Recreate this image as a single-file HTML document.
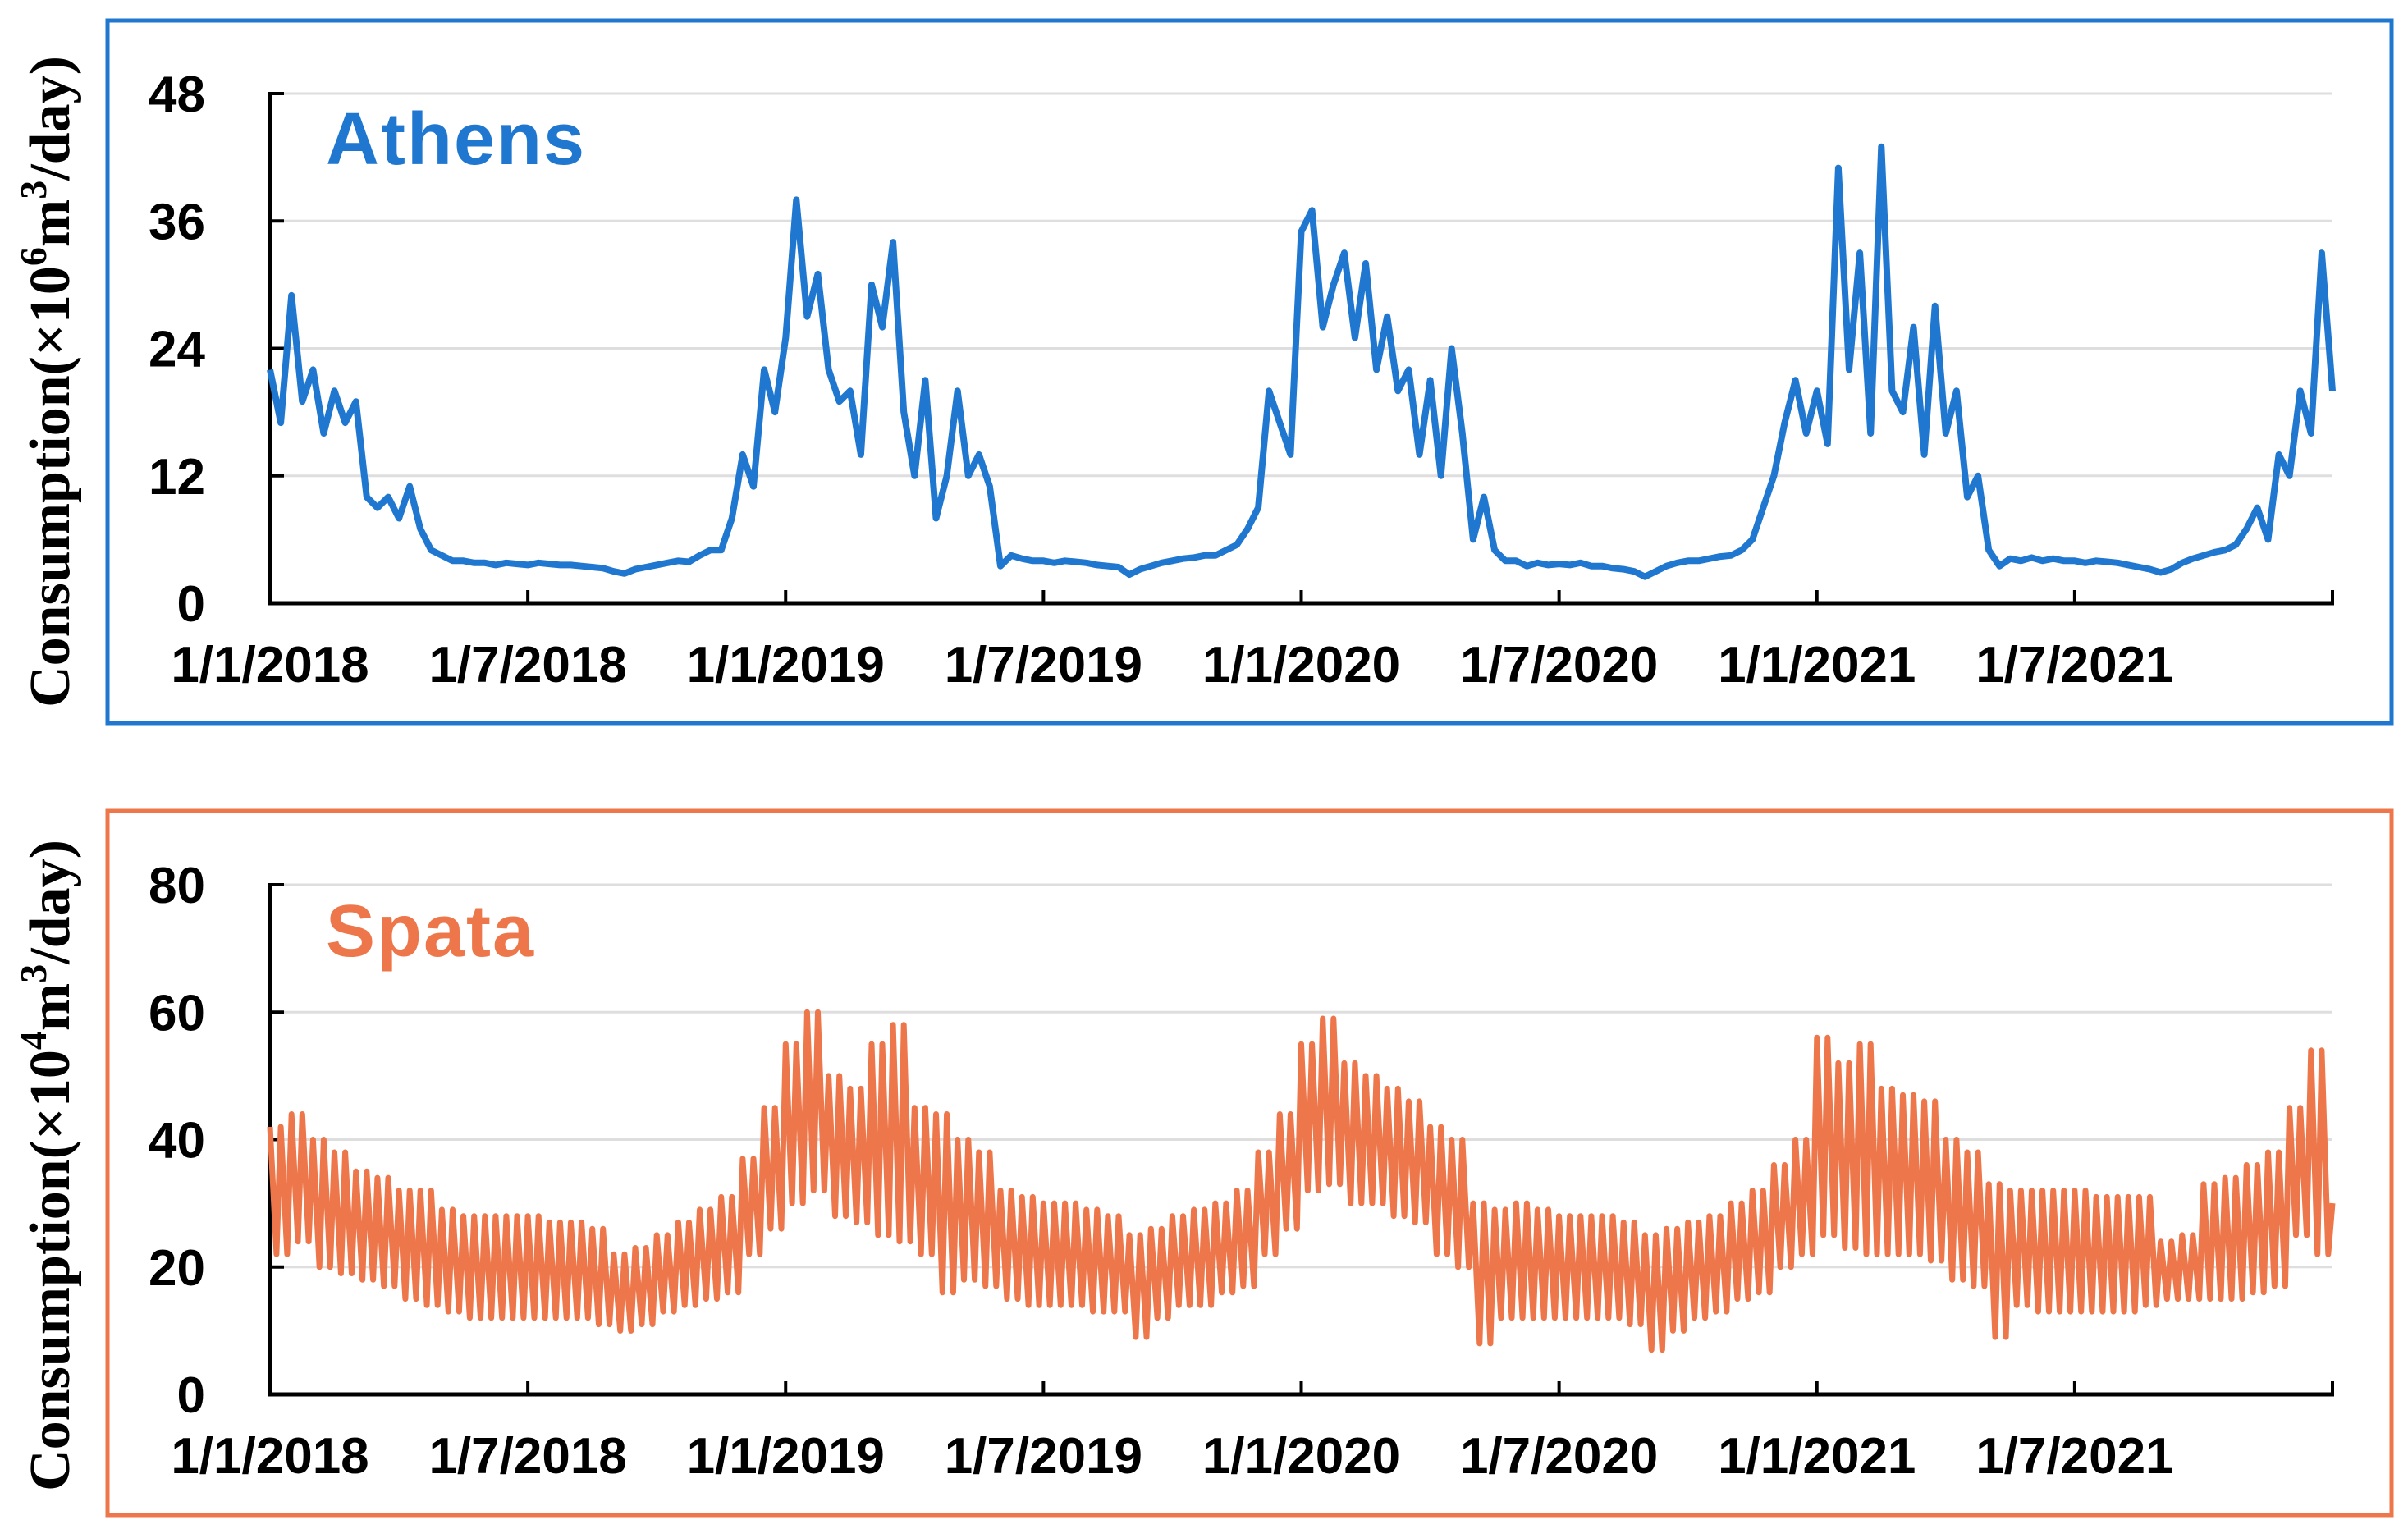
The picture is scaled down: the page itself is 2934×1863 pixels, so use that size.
<!DOCTYPE html>
<html><head><meta charset="utf-8">
<style>
html,body{margin:0;padding:0;background:#fff;}
svg{display:block;}
.tk{font-family:"Liberation Sans",Arial,sans-serif;font-weight:bold;font-size:62px;fill:#000;}
.yt{font-family:"Liberation Serif","Times New Roman",serif;font-weight:bold;font-size:70px;fill:#000;}
</style></head>
<body>
<svg id="chart" width="2934" height="1863" viewBox="0 0 2934 1863" xmlns="http://www.w3.org/2000/svg">
<rect x="131" y="25" width="2783" height="856" fill="none" stroke="#1f77d0" stroke-width="5"/>
<rect x="131" y="988" width="2783" height="858" fill="none" stroke="#ed774a" stroke-width="5"/>
<g id="top"></g>
<g id="bot"></g>
</svg>
<script>
const dateLabels = ["1/1/2018","1/7/2018","1/1/2019","1/7/2019","1/1/2020","1/7/2020","1/1/2021","1/7/2021"];
const athensTicks = [0,12,24,36,48];
const spataTicks = [0,20,40,60,80];
// Athens: 4 values per month (Jan 2018 .. Dec 2021) + final
const athensValues = [
22,17,29,19, 22,16,20,17, 19,10,9,10, 8,11,7,5, 4.5,4,4,3.8, 3.8,3.6,3.8,3.7, 3.6,3.8,3.7,3.6, 3.6,3.5,3.4,3.3, 3.0,2.8,3.2,3.4, 3.6,3.8,4.0,3.9, 4.5,5,5,8, 14,11,22,18,
25,38,27,31, 22,19,20,14, 30,26,34,18, 12,21,8,12, 20,12,14,11, 3.5,4.5,4.2,4.0, 4,3.8,4,3.9, 3.8,3.6,3.5,3.4, 2.7,3.2,3.5,3.8, 4,4.2,4.3,4.5, 4.5,5,5.5,7, 9,20,17,14,
35,37,26,30, 33,25,32,22, 27,20,22,14, 21,12,24,16, 6,10,5,4, 4,3.5,3.8,3.6, 3.7,3.6,3.8,3.5, 3.5,3.3,3.2,3.0, 2.5,3.0,3.5,3.8, 4,4,4.2,4.4, 4.5,5,6,9, 12,17,21,16,
20,15,41,22, 33,16,43,20, 18,26,14,28, 16,20,10,12, 5,3.5,4.2,4, 4.3,4,4.2,4.0, 4,3.8,4,3.9, 3.8,3.6,3.4,3.2, 2.9,3.2,3.8,4.2, 4.5,4.8,5,5.5, 7,9,6,14, 12,20,16,33, 20];
// Spata: highs and lows, 2 per month
const spataHigh = [
42,44, 40,38, 35,34, 32,32, 29,28, 28,28, 28,27, 27,26, 22,23, 25,27, 29,31, 37,45,
55,60, 50,48, 55,58, 45,44, 40,38, 32,31, 30,30, 29,28, 25,26, 28,29, 30,32, 38,44,
55,59, 52,50, 48,46, 42,40, 30,29, 30,29, 28,28, 28,27, 25,26, 27,28, 30,32, 36,40,
56,52, 55,48, 47,46, 40,38, 33,32, 32,32, 32,31, 31,31, 24,25, 33,34, 36,38, 45,54];
const spataLow = [
22,24, 20,19, 18,17, 15,14, 13,12, 12,12, 12,12, 12,11, 10,11, 13,14, 15,16, 22,26,
30,32, 28,27, 25,24, 22,16, 18,17, 15,14, 14,14, 13,13, 9,12, 14,14, 16,17, 22,26,
32,33, 30,30, 28,27, 22,20, 8,12, 12,12, 12,12, 12,11, 7,10, 12,13, 15,16, 20,22,
25,23, 22,22, 22,21, 18,17, 9,14, 13,13, 13,13, 13,14, 15,15, 15,15, 16,17, 25,22];

const NS="http://www.w3.org/2000/svg";
const X0=329, X1=2842;
function xScale(f){return X0+(X1-X0)*f;}
function mk(tag,attrs,parent){const e=document.createElementNS(NS,tag);for(const k in attrs)e.setAttribute(k,attrs[k]);parent.appendChild(e);return e;}

function drawPanel(g, yTop, yBot, ticks, maxV, title, color, titleY, sup, ytCenter){
  const ys=v=>yBot-(yBot-yTop)*v/maxV;
  ticks.forEach((t,i)=>{
    if(t>0){
      const gl=mk('line',{x1:X0,x2:X1,y1:ys(t),y2:ys(t),stroke:'#dedede','stroke-width':3},g);
      
      
    }
    const tl=mk('line',{x1:X0,x2:X0+17,y1:ys(t),y2:ys(t),stroke:'#000','stroke-width':4},g);
    
    
    const tx=mk('text',{x:250,y:ys(t)+22,'text-anchor':'end',class:'tk'},g);
    tx.textContent=t;
    
    
  });
  const ya=mk('line',{x1:X0,x2:X0,y1:yTop-2,y2:yBot+2,stroke:'#000','stroke-width':5},g);
  
  
  const xa=mk('line',{x1:X0-2,x2:X1+2,y1:yBot,y2:yBot,stroke:'#000','stroke-width':5},g);
  
  
  for(let i=0;i<=8;i++){
    const x=xScale(i/8);
    const t=mk('line',{x1:x,x2:x,y1:yBot,y2:yBot-16,stroke:'#000','stroke-width':4},g);
    
    
    if(i<8){
      const l=mk('text',{x:x,y:yBot+96,'text-anchor':'middle',class:'tk'},g);
      l.textContent=dateLabels[i];
      
      
    }
  }
  const tt=mk('text',{x:397,y:titleY,fill:color,style:'font-family:"Liberation Sans",Arial,sans-serif;font-weight:bold;font-size:90px;letter-spacing:2px'},g);
  tt.textContent=title;
  
  
  const yt=mk('text',{x:0,y:0,'text-anchor':'middle',class:'yt',transform:`translate(${ytCenter[0]},${ytCenter[1]}) rotate(-90)`},g);
  yt.innerHTML=`Consumption(×10<tspan dy="-28" font-size="46">${sup}</tspan><tspan dy="28">m</tspan><tspan dy="-28" font-size="46">3</tspan><tspan dy="28">/day)</tspan>`;
  
  
  return ys;
}

const topG=document.getElementById('top');
const ysA=drawPanel(topG,114,735,athensTicks,48,'Athens','#1f77d0',200,'6',[84,465]);
let d='';
const nA=athensValues.length-1;
athensValues.forEach((v,i)=>{d+=(i?'L':'M')+xScale(i/nA).toFixed(1)+' '+ysA(v).toFixed(1);});
const pa=mk('path',{d:d,fill:'none',stroke:'#1f77d0','stroke-width':8,'stroke-linejoin':'round'},topG);



const botG=document.getElementById('bot');
const ysS=drawPanel(botG,1078,1699,spataTicks,80,'Spata','#ed774a',1165,'4',[84,1420]);
let d2='';
const nS=spataHigh.length;
const cyc=2;
for(let i=0;i<nS;i++){
  for(let k=0;k<cyc;k++){
    const f1=(i+k/cyc)/nS, f2=(i+k/cyc+0.6/cyc)/nS;
    d2+=(d2?'L':'M')+xScale(f1).toFixed(1)+' '+ysS(spataHigh[i]).toFixed(1);
    d2+='L'+xScale(f2).toFixed(1)+' '+ysS(spataLow[i]).toFixed(1);
  }
}
d2+='L'+xScale(1).toFixed(1)+' '+ysS(30).toFixed(1);
const ps=mk('path',{d:d2,fill:'none',stroke:'#ed774a','stroke-width':7,'stroke-linejoin':'round'},botG);


</script>
</body></html>
